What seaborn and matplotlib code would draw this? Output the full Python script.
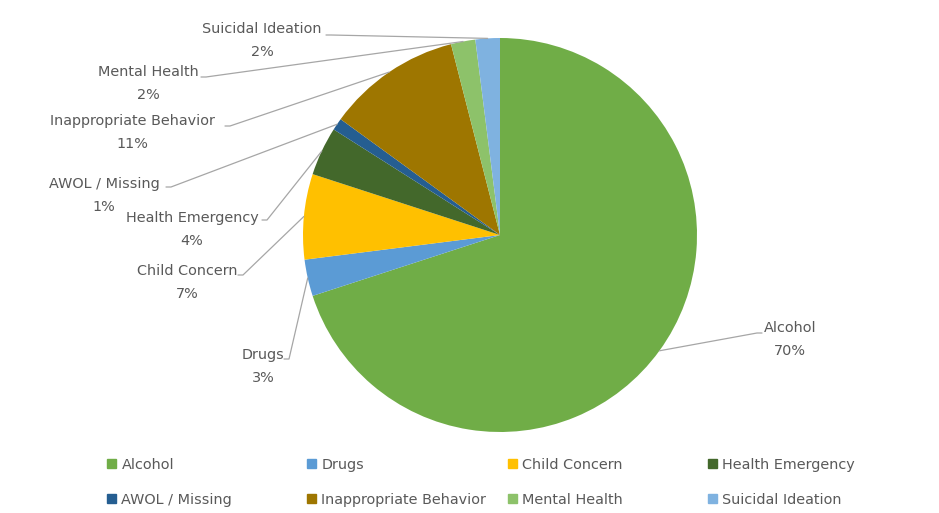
import matplotlib
matplotlib.use("Agg")
import matplotlib.pyplot as plt
import matplotlib.patches as mpatches
import numpy as np
import seaborn as sns

categories = ["Alcohol", "Drugs", "Child Concern", "Health Emergency",
              "AWOL / Missing", "Inappropriate Behavior", "Mental Health",
              "Suicidal Ideation"]
shares = [70, 3, 7, 4, 1, 11, 2, 2]
pct_labels = ["70%", "3%", "7%", "4%", "1%", "11%", "2%", "2%"]
colors = ["#70ad47", "#5b9bd5", "#ffc000", "#43682b",
          "#255e91", "#9e7600", "#8dc26a", "#7fb2e0"]

sns.set_theme(style="white")
plt.rcParams["font.family"] = ["DejaVu Sans"]

W, H = 939, 513
fig = plt.figure(figsize=(W / 100, H / 100), dpi=100)
ax = fig.add_axes([0, 0, 1, 1])

# pie in pixel units (y up)
cx, cy, r = 500, H - 235, 197
wedges, _ = ax.pie(shares, colors=colors, startangle=90, counterclock=False,
                   center=(cx, cy), radius=r, wedgeprops=dict(linewidth=0))
ax.set_xlim(0, W)
ax.set_ylim(0, H)
ax.set_aspect("equal")
ax.set_axis_off()

# label text centre (x, y of first line) and leader start, pixels from top
label_layout = {
    "Alcohol": ((790, 328), (757, 333), -1),
    "Drugs": ((263, 355), (289, 359), 1),
    "Child Concern": ((187, 271), (243, 275), 1),
    "Health Emergency": ((192, 218), (267, 220), 1),
    "AWOL / Missing": ((104, 184), (171, 187), 1),
    "Inappropriate Behavior": ((132, 121), (230, 126), 1),
    "Mental Health": ((148, 72), (206, 77), 1),
    "Suicidal Ideation": ((262, 29), (331, 35), 1),
}
txt_col = "#595959"
line_col = "#a6a6a6"
fs = 10.4

for w, name, pct in zip(wedges, categories, pct_labels):
    (tx, ty), (sx, sy), d = label_layout[name]
    ang = np.deg2rad((w.theta1 + w.theta2) / 2)
    ex, ey = cx + r * np.cos(ang), cy + r * np.sin(ang)
    ax.plot([sx - 5 * d, sx, ex], [H - sy, H - sy, ey], color=line_col, lw=0.9)
    ax.text(tx, H - ty, name, ha="center", va="center", fontsize=fs, color=txt_col)
    ax.text(tx, H - ty - 23, pct, ha="center", va="center", fontsize=fs, color=txt_col)

# legend: 4 columns x 2 rows
col_x = [107, 307, 508, 708]
row_y = [465, 500]
for i, (name, c) in enumerate(zip(categories, colors)):
    x = col_x[i % 4]
    y = row_y[i // 4]
    fig.legend(handles=[mpatches.Patch(color=c, label=name)],
               loc="center left", bbox_to_anchor=(x / W, 1 - y / H),
               frameon=False, handlelength=0.6, handleheight=0.6,
               handletextpad=0.4, borderpad=0, borderaxespad=0,
               labelcolor=txt_col, fontsize=fs)

fig.savefig("out.png", dpi=100)
